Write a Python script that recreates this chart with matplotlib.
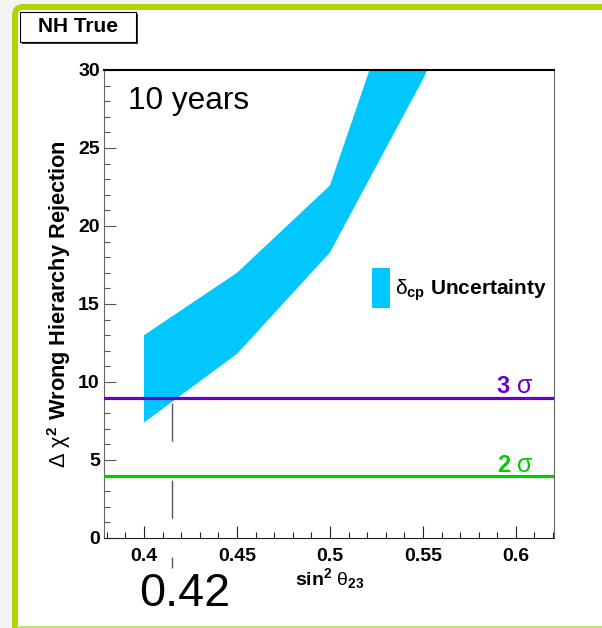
import matplotlib
matplotlib.use("Agg")
import matplotlib.pyplot as plt
from matplotlib.patches import FancyBboxPatch, Rectangle
from matplotlib.lines import Line2D
from matplotlib.ticker import MultipleLocator
from matplotlib.transforms import IdentityTransform

plt.rcParams['font.family'] = ['Liberation Sans', 'DejaVu Sans']
plt.rcParams['mathtext.fontset'] = 'custom'
plt.rcParams['mathtext.rm'] = 'Liberation Sans'
plt.rcParams['mathtext.it'] = 'Liberation Sans'
plt.rcParams['mathtext.bf'] = 'Liberation Sans:bold'

# data
sin2 = [0.40, 0.45, 0.50, 0.55, 0.60]
chi2_low = [7.4, 11.8, 18.3, 29.4, 42.0]
chi2_high = [13.0, 17.0, 22.6, 40.0, 55.0]
sigma3 = 9.0
sigma2 = 4.0
best_fit = 0.415
best_fit_label = '0.42'
xticks = [0.4, 0.45, 0.5, 0.55, 0.6]
xticklabels = ['0.4', '0.45', '0.5', '0.55', '0.6']
yticks = [0, 5, 10, 15, 20, 25, 30]

W, H = 602, 628
fig = plt.figure(figsize=(W / 100, H / 100), dpi=100, facecolor='#f4f4f4')

# white panel with yellow-green frame (pixel coords, origin bottom-left)
panel = FancyBboxPatch((15, -20), 600, H - 7 + 20, boxstyle='round,pad=0,rounding_size=8',
                       transform=IdentityTransform(), facecolor='white',
                       edgecolor='#b3d300', linewidth=4.3, zorder=-10)
fig.patches.append(panel)
fig.add_artist(Line2D([0.03, 1], [1.2 / H, 1.2 / H], color='#c6e070', lw=1.5,
                      transform=fig.transFigure, zorder=-9))

# NH True box with shadow
fig.patches.append(Rectangle((22, H - 44), 116, 30, transform=IdentityTransform(),
                             facecolor='#333333', edgecolor='none', zorder=1))
fig.patches.append(Rectangle((20, H - 42), 116, 30, transform=IdentityTransform(),
                             facecolor='white', edgecolor='black', linewidth=0.8, zorder=2))
fig.text(78 / W, 1 - 27 / H, 'NH True', ha='center', va='center',
         fontsize=15, fontweight='bold', zorder=3)

ax = fig.add_axes([104 / W, 1 - 538 / H, 450 / W, 468 / H])
ax.set_facecolor('white')

ax.fill_between(sin2, chi2_low, chi2_high, color='#00c8ff', linewidth=0,
                label=r'$\delta_{\mathbf{cp}}$ Uncertainty', zorder=2)

ax.axhline(sigma3, color='#6600cc', lw=2.3, zorder=3)
ax.axhline(sigma2, color='#00cc00', lw=2.3, zorder=3)

# dashed marker at best fit, running below the axis
ax.plot([best_fit, best_fit], [8.65, -1.92], color='#555555', lw=1.0,
        linestyle=(0, (27.4, 28.1)), clip_on=False, zorder=1)

ax.set_xlim(0.3785, 0.6205)
ax.set_ylim(0, 30)

ax.set_xticks(xticks)
ax.set_xticklabels(xticklabels)
ax.set_yticks(yticks)
ax.xaxis.set_minor_locator(MultipleLocator(0.01))
ax.yaxis.set_minor_locator(MultipleLocator(1))
ax.tick_params(axis='both', which='both', direction='in', top=False, right=False)
ax.tick_params(axis='both', which='major', length=8.6, width=0.8, labelsize=14)
ax.tick_params(axis='both', which='minor', length=4.3, width=0.8)
ax.tick_params(axis='x', which='both', colors='#222222', pad=7)
ax.tick_params(axis='y', which='both', colors='#555555', pad=3)
for lab in ax.get_xticklabels() + ax.get_yticklabels():
    lab.set_fontweight('bold')
    lab.set_color('black')

ax.spines['top'].set_color('black')
ax.spines['top'].set_linewidth(1.5)
ax.spines['bottom'].set_color('#222222')
ax.spines['left'].set_color('#666666')
ax.spines['right'].set_color('#666666')

ax.set_ylabel(r'$\Delta\ \chi^{\mathbf{2}}$ Wrong Hierarchy Rejection',
              fontsize=15.7, fontweight='bold', labelpad=4)
ax.text(0.5, -1.8, r'$\mathbf{sin}^{\mathbf{2}}\ \theta_{\mathbf{23}}$', ha='center', va='top',
        fontsize=14)

ax.text(0.3915, 27.48, '10 years', fontsize=22.7, va='baseline')
ax.text(0.3975, -2.2, best_fit_label, fontsize=33.7, va='top', ha='left')

ax.text(0.5898, 9.3, '3', color='#6600cc', fontsize=17, fontweight='bold', va='baseline')
ax.text(0.6008, 9.3, '\u03c3', color='#6600cc', fontsize=18, va='baseline')
ax.text(0.5898, 4.2, '2', color='#00cc00', fontsize=17, fontweight='bold', va='baseline')
ax.text(0.6008, 4.2, '\u03c3', color='#00cc00', fontsize=18, va='baseline')

leg = ax.legend(loc='center left', bbox_to_anchor=(0.5956, 0.534), frameon=False,
                borderpad=0, borderaxespad=0, handlelength=0.87, handleheight=2.6,
                handletextpad=0.25, prop={'size': 15, 'weight': 'bold'})

fig.savefig('out.png', dpi=100, facecolor=fig.get_facecolor())
